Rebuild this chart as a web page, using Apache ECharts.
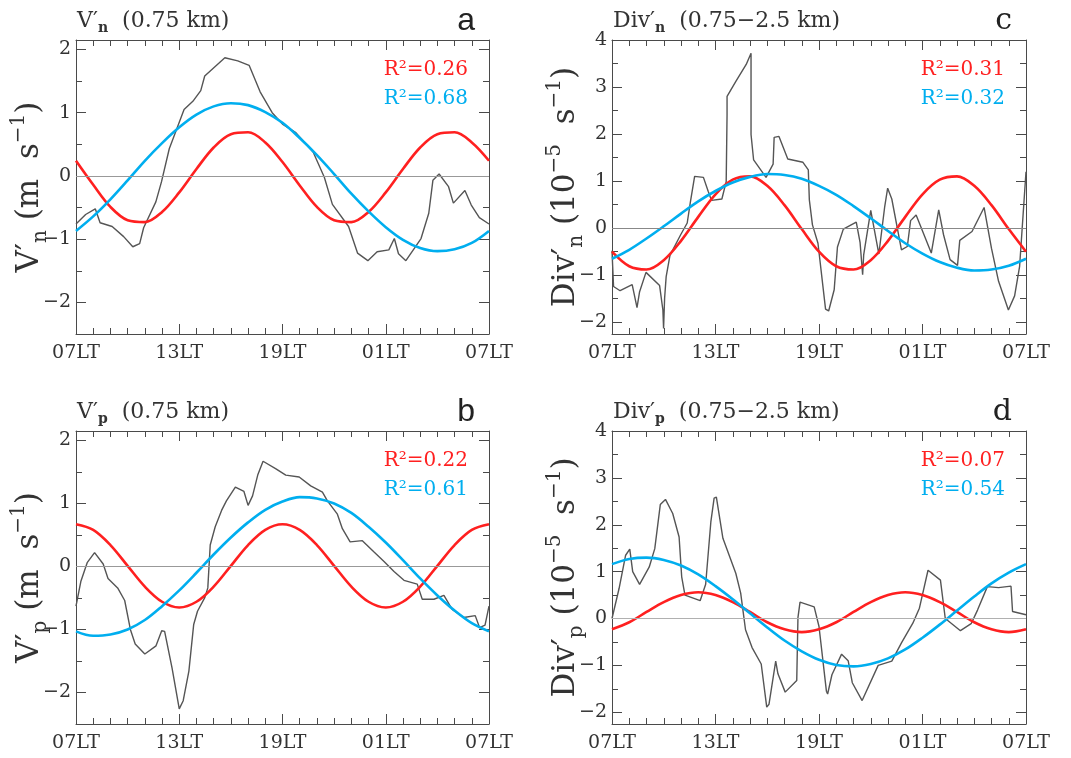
<!DOCTYPE html>
<html>
<head>
<meta charset="utf-8">
<title>Vn, Vp, Div fits</title>
<script src="https://cdn.jsdelivr.net/npm/echarts@6/dist/echarts.min.js"></script>
<style>
  html, body { margin: 0; padding: 0; background: #fff; }
  #chart { width: 1071px; height: 758px; }
</style>
</head>
<body>
<div id="chart"></div>
<script>
// x = hours after 07LT
const tickLabels = ['07LT', '13LT', '19LT', '01LT', '07LT'];
const fitHours = [0, 1, 2, 3, 4, 5, 6, 7, 8, 9, 10, 11, 12, 13, 14, 15, 16, 17, 18, 19, 20, 21, 22, 23, 24];

// a: V'n (0.75 km)
const vnObs = [[0,-0.76],[0.56,-0.61],[1.12,-0.52],[1.4,-0.74],[2.1,-0.8],[2.77,-0.96],[3.3,-1.12],[3.7,-1.07],[3.93,-0.82],[4.64,-0.41],[4.97,-0.09],[5.42,0.43],[6.28,1.05],[6.79,1.18],[7.25,1.35],[7.48,1.58],[8.65,1.87],[9.4,1.82],[10.06,1.75],[10.7,1.33],[11.4,1.0],[12.0,0.82],[12.75,0.69],[13.78,0.38],[14.43,-0.02],[14.9,-0.45],[15.84,-0.8],[16.36,-1.22],[16.96,-1.34],[17.5,-1.2],[18.18,-1.17],[18.5,-0.99],[18.74,-1.23],[19.17,-1.34],[20.05,-0.99],[20.5,-0.59],[20.74,-0.07],[21.1,0.03],[21.65,-0.17],[21.93,-0.43],[22.6,-0.23],[22.97,-0.46],[23.44,-0.66],[24,-0.76]];
const vnSemi = [0.24,-0.14,-0.49,-0.70,-0.73,-0.57,-0.26,0.11,0.45,0.66,0.69,0.53,0.22,-0.15,-0.49,-0.70,-0.73,-0.57,-0.26,0.11,0.45,0.66,0.69,0.53,0.24];
const vnDiur = [-0.87,-0.64,-0.37,-0.07,0.24,0.52,0.77,0.97,1.10,1.15,1.12,1.01,0.84,0.60,0.33,0.03,-0.28,-0.56,-0.81,-1.01,-1.14,-1.19,-1.16,-1.06,-0.87];
const vnR2 = ['0.26', '0.68'];

// b: V'p (0.75 km)
const vpObs = [[0,-0.63],[0.28,-0.24],[0.65,0.06],[1.08,0.22],[1.58,0.04],[1.86,-0.19],[2.42,-0.34],[2.83,-0.54],[3.16,-1.0],[3.44,-1.23],[4.0,-1.39],[4.65,-1.26],[4.98,-1.02],[5.15,-1.03],[5.58,-1.61],[6.0,-2.26],[6.23,-2.13],[6.56,-1.66],[6.84,-0.92],[7.06,-0.71],[7.49,-0.49],[7.66,-0.34],[7.8,0.34],[8.09,0.63],[8.46,0.89],[8.74,1.04],[9.26,1.26],[9.76,1.19],[10.0,0.97],[10.26,1.12],[10.56,1.45],[10.87,1.67],[11.62,1.55],[12.19,1.45],[12.97,1.42],[13.64,1.28],[14.32,1.18],[14.61,1.04],[15.19,0.83],[15.48,0.6],[15.93,0.39],[16.64,0.41],[17.32,0.23],[17.9,0.08],[18.48,-0.08],[19.06,-0.22],[19.83,-0.28],[20.12,-0.52],[20.8,-0.52],[21.38,-0.46],[21.86,-0.68],[22.54,-0.81],[23.2,-0.78],[23.45,-0.97],[23.77,-0.93],[24,-0.63]];
const vpSemi = [0.67,0.58,0.34,0.01,-0.32,-0.56,-0.65,-0.56,-0.32,0.01,0.34,0.58,0.67,0.58,0.34,0.01,-0.32,-0.56,-0.65,-0.56,-0.32,0.01,0.34,0.58,0.67];
const vpDiur = [-1.03,-1.10,-1.08,-1.00,-0.85,-0.63,-0.38,-0.10,0.19,0.46,0.70,0.90,1.03,1.10,1.08,1.00,0.85,0.63,0.38,0.10,-0.19,-0.46,-0.70,-0.90,-1.03];
const vpR2 = ['0.22', '0.61'];

// c: Div'n (0.75-2.5 km)
const divnObs = [[0,-0.48],[0.09,-1.24],[0.47,-1.33],[1.17,-1.2],[1.45,-1.69],[1.6,-1.35],[1.97,-0.94],[2.76,-1.22],[2.95,-1.74],[2.99,-2.13],[3.05,-1.49],[3.14,-1.03],[3.36,-0.58],[3.98,-0.14],[4.36,0.11],[4.55,0.57],[4.79,1.1],[5.3,1.08],[5.58,0.78],[5.77,0.59],[6.37,0.62],[6.62,0.99],[6.67,2.41],[6.67,2.8],[7.18,3.12],[7.78,3.48],[8.06,3.72],[8.06,1.99],[8.21,1.45],[8.93,1.08],[9.34,1.36],[9.4,1.93],[9.68,1.95],[10.19,1.47],[11.07,1.4],[11.38,1.24],[11.44,0.6],[11.62,0.07],[11.94,-0.32],[12.38,-1.72],[12.56,-1.76],[12.88,-1.31],[13.07,-0.4],[13.41,-0.02],[14.16,0.13],[14.38,-0.3],[14.53,-0.99],[14.59,-0.57],[15.0,0.38],[15.47,-0.55],[15.56,-0.57],[15.81,0.46],[15.98,0.85],[16.22,0.62],[16.78,-0.46],[17.12,-0.39],[17.31,0.16],[17.63,0.28],[18.51,-0.53],[18.94,0.39],[19.04,0.37],[19.22,-0.14],[19.6,-0.67],[20.03,-0.79],[20.16,-0.26],[20.87,-0.07],[21.57,0.44],[22.0,-0.43],[22.41,-1.13],[22.98,-1.74],[23.34,-1.44],[23.63,-0.81],[24,1.2]];
const divnSemi = [-0.50,-0.81,-0.88,-0.68,-0.27,0.24,0.72,1.03,1.10,0.90,0.49,-0.02,-0.50,-0.81,-0.88,-0.68,-0.27,0.24,0.72,1.03,1.10,0.90,0.49,-0.02,-0.50];
const divnDiur = [-0.65,-0.46,-0.22,0.04,0.31,0.57,0.79,0.97,1.09,1.15,1.13,1.05,0.90,0.71,0.47,0.21,-0.06,-0.32,-0.54,-0.72,-0.84,-0.90,-0.88,-0.80,-0.65];
const divnR2 = ['0.31', '0.32'];

// d: Div'p (0.75-2.5 km)
const divpObs = [[0,0.0],[0.41,0.64],[0.79,1.35],[1.03,1.48],[1.2,1.0],[1.6,0.73],[2.16,1.1],[2.48,1.49],[2.8,2.43],[3.1,2.54],[3.52,2.24],[3.89,1.74],[4.04,0.89],[4.23,0.5],[5.11,0.38],[5.43,0.73],[5.73,2.06],[5.92,2.57],[6.05,2.59],[6.43,1.71],[7.18,0.96],[7.46,0.54],[7.74,-0.24],[8.12,-0.62],[8.65,-0.97],[8.97,-1.89],[9.1,-1.83],[9.49,-0.91],[9.62,-1.18],[10.04,-1.57],[10.71,-1.32],[10.78,0.02],[10.9,0.35],[11.72,0.25],[12.0,-0.17],[12.43,-1.55],[12.5,-1.61],[12.75,-1.2],[13.31,-0.76],[13.69,-0.9],[13.93,-1.37],[14.5,-1.75],[15.43,-1.0],[16.22,-0.91],[16.78,-0.52],[17.44,-0.1],[17.82,0.22],[18.32,1.03],[19.04,0.82],[19.32,0.0],[20.2,-0.26],[20.82,-0.11],[21.19,0.18],[21.76,0.68],[22.41,0.66],[23.13,0.69],[23.22,0.15],[24,0.08]];
const divpSemi = [-0.23,-0.08,0.14,0.35,0.50,0.56,0.50,0.35,0.14,-0.08,-0.23,-0.29,-0.23,-0.08,0.14,0.35,0.50,0.56,0.50,0.35,0.14,-0.08,-0.23,-0.29,-0.23];
const divpDiur = [1.16,1.27,1.30,1.25,1.13,0.94,0.69,0.41,0.11,-0.19,-0.47,-0.70,-0.88,-0.99,-1.02,-0.97,-0.85,-0.66,-0.41,-0.13,0.17,0.47,0.75,0.98,1.16];
const divpR2 = ['0.07', '0.54'];

const vMajor = [-2, -1, 0, 1, 2];
const vMinor = [-1.5, -0.5, 0.5, 1.5];
const divMajor = [-2, -1, 0, 1, 2, 3, 4];
const divMinor = [-1.5, -0.5, 0.5, 1.5, 2.5, 3.5];

const serif = 'DejaVu Serif';
const textColor = '#333';
const axisColor = '#4a4a4a';
const red = '#ff2020';
const blue = '#00aeef';

const panels = [
  { grid: { left: 76, top: 40, width: 413, height: 294 }, yMin: -2.5, yMax: 2.15, major: vMajor, minor: vMinor,
    obs: vnObs, semi: vnSemi, diur: vnDiur, r2: vnR2, zeroColor: '#999',
    title: 'V′{s|n}  (0.75 km)', yName: 'V′{s|n} (m  s{p|−1})', letter: 'a', letterFamily: 'Liberation Sans', letterSize: 32 },
  { grid: { left: 76, top: 431, width: 413, height: 293 }, yMin: -2.5, yMax: 2.15, major: vMajor, minor: vMinor,
    obs: vpObs, semi: vpSemi, diur: vpDiur, r2: vpR2, zeroColor: '#999',
    title: 'V′{s|p}  (0.75 km)', yName: 'V′{s|p} (m  s{p|−1})', letter: 'b', letterFamily: 'Liberation Sans', letterSize: 32 },
  { grid: { left: 612, top: 40, width: 414, height: 294 }, yMin: -2.25, yMax: 4, major: divMajor, minor: divMinor,
    obs: divnObs, semi: divnSemi, diur: divnDiur, r2: divnR2, zeroColor: '#888',
    title: 'Div′{s|n}  (0.75−2.5 km)', yName: 'Div′{s|n} (10{p|−5}  s{p|−1})', letter: 'c', letterFamily: 'DejaVu Serif', letterSize: 30 },
  { grid: { left: 612, top: 431, width: 414, height: 293 }, yMin: -2.25, yMax: 4, major: divMajor, minor: divMinor,
    obs: divpObs, semi: divpSemi, diur: divpDiur, r2: divpR2, zeroColor: '#b0b0b0',
    title: 'Div′{s|p}  (0.75−2.5 km)', yName: 'Div′{s|p} (10{p|−5}  s{p|−1})', letter: 'd', letterFamily: 'DejaVu Serif', letterSize: 30 }
];

function fmtNum(v) {
  return v < 0 ? '−' + Math.abs(v) : String(v);
}

const nameStyle = {
  fontFamily: serif, fontSize: 31, color: textColor, lineHeight: 42,
  rich: {
    s: { fontFamily: serif, fontSize: 20, color: textColor, verticalAlign: 'bottom', lineHeight: 22 },
    p: { fontFamily: serif, fontSize: 20, color: textColor, verticalAlign: 'top', lineHeight: 22 }
  }
};

function label(x, y, text, color, family, size) {
  return {
    type: 'text', x: x, y: y,
    style: { text: text, fill: color, fontFamily: family, fontSize: size,
      textAlign: 'right', textVerticalAlign: 'middle', align: 'right', verticalAlign: 'middle' }
  };
}

const grids = [], xAxes = [], yAxes = [], series = [], titles = [], graphics = [];

panels.forEach(function (p, i) {
  grids.push(Object.assign({ outerBoundsMode: 'none', containLabel: false }, p.grid));

  const line = { show: true, onZero: false, lineStyle: { color: axisColor, width: 1 } };
  const xCommon = { type: 'value', gridIndex: i, min: 0, max: 24, interval: 6, splitLine: { show: false },
    axisLine: line,
    axisTick: { show: true, inside: true, length: 10, lineStyle: { color: axisColor } },
    minorTick: { show: true, splitNumber: 6, length: 6, lineStyle: { color: axisColor } } };
  xAxes.push(Object.assign({}, xCommon, { position: 'bottom',
    axisLabel: { show: true, margin: 10, color: textColor, fontFamily: serif, fontSize: 19,
      formatter: function (v) { return tickLabels[Math.round(v / 6)]; } } }));
  xAxes.push(Object.assign({}, xCommon, { position: 'top', axisLabel: { show: false } }));

  const yCommon = { type: 'value', gridIndex: i, min: p.yMin, max: p.yMax, splitLine: { show: false } };
  const majTick = { show: true, inside: true, length: 10, customValues: p.major, lineStyle: { color: axisColor } };
  const minTick = { show: true, inside: true, length: 6, customValues: p.minor, lineStyle: { color: axisColor } };
  yAxes.push(Object.assign({}, yCommon, { position: 'left', axisLine: line, axisTick: majTick,
    axisLabel: { show: true, customValues: p.major, margin: 5, color: textColor, fontFamily: serif, fontSize: 19, formatter: fmtNum },
    name: p.yName, nameLocation: 'middle', nameRotate: 90, nameGap: 25, nameMoveOverlap: false, nameTextStyle: nameStyle }));
  yAxes.push(Object.assign({}, yCommon, { position: 'left', axisLine: { show: false, onZero: false }, axisTick: minTick, axisLabel: { show: false } }));
  yAxes.push(Object.assign({}, yCommon, { position: 'right', axisLine: line, axisTick: majTick, axisLabel: { show: false } }));
  yAxes.push(Object.assign({}, yCommon, { position: 'right', axisLine: { show: false, onZero: false }, axisTick: minTick, axisLabel: { show: false } }));

  const xi = i * 2, yi = i * 4;
  series.push({
    type: 'line', xAxisIndex: xi, yAxisIndex: yi, data: p.obs, symbol: 'none', z: 2,
    lineStyle: { color: '#555', width: 1.4 },
    markLine: { silent: true, symbol: 'none', label: { show: false },
      lineStyle: { color: p.zeroColor, width: 1.2, type: 'solid' }, data: [{ yAxis: 0 }] }
  });
  series.push({
    type: 'line', xAxisIndex: xi, yAxisIndex: yi, symbol: 'none', smooth: 0.35, z: 3,
    data: fitHours.map(function (h, k) { return [h, p.semi[k]]; }),
    lineStyle: { color: red, width: 2.6 }
  });
  series.push({
    type: 'line', xAxisIndex: xi, yAxisIndex: yi, symbol: 'none', smooth: 0.35, z: 4,
    data: fitHours.map(function (h, k) { return [h, p.diur[k]]; }),
    lineStyle: { color: blue, width: 2.6 }
  });

  const left = p.grid.left, top = p.grid.top, right = p.grid.left + p.grid.width;
  titles.push({
    text: p.title, left: left + 1, top: top - 33, padding: 0,
    textStyle: { fontFamily: serif, fontSize: 22, fontWeight: 'normal', color: textColor, lineHeight: 28,
      rich: { s: { fontFamily: serif, fontSize: 14, fontWeight: 'bold', color: textColor, verticalAlign: 'bottom', lineHeight: 13 } } }
  });
  graphics.push(label(right - 14, top - 19, p.letter, '#222', p.letterFamily, p.letterSize));
  graphics.push(label(right - 21, top + 30, 'R²=' + p.r2[0], red, serif, 20));
  graphics.push(label(right - 21, top + 59, 'R²=' + p.r2[1], blue, serif, 20));
});

const chart = echarts.init(document.getElementById('chart'), null, { renderer: 'canvas' });
chart.setOption({
  backgroundColor: '#fff',
  animation: false,
  title: titles,
  grid: grids,
  xAxis: xAxes,
  yAxis: yAxes,
  series: series,
  graphic: { elements: graphics }
});
</script>
</body>
</html>
